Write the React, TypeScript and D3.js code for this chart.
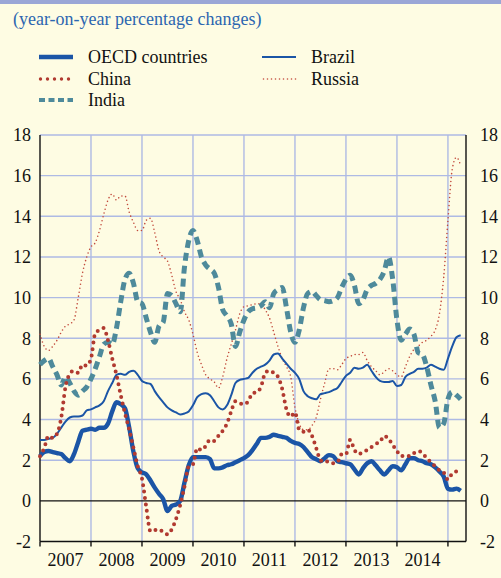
import React, { useEffect, useRef } from 'react';
import * as d3 from 'd3';

// monthly series, Jan 2007 .. Apr 2015
const years = ['2007', '2008', '2009', '2010', '2011', '2012', '2013', '2014'];
const yTicks = [-2, 0, 2, 4, 6, 8, 10, 12, 14, 16, 18];

const oecd = [
  2.2, 2.4, 2.45, 2.4, 2.35, 2.3, 2.1, 1.95, 2.3, 2.9, 3.45, 3.5,
  3.55, 3.5, 3.6, 3.6, 3.8, 4.4, 4.85, 4.75, 4.55, 3.6, 2.4, 1.6,
  1.4, 1.3, 1.0, 0.65, 0.35, 0.08, -0.5, -0.25, -0.18, 0.0, 0.9, 1.75,
  2.15, 2.15, 2.15, 2.15, 2.05, 1.6, 1.6, 1.65, 1.75, 1.8, 1.9, 2.0,
  2.1, 2.25, 2.5, 2.8, 3.1, 3.1, 3.15, 3.25, 3.2, 3.15, 3.1, 2.95,
  2.85, 2.8, 2.65, 2.4, 2.15, 2.05, 1.95, 2.1, 2.25, 2.2, 1.95, 1.9,
  1.85, 1.8, 1.55, 1.3, 1.6, 1.85, 1.95, 1.75, 1.5, 1.3, 1.5, 1.7,
  1.65, 1.5, 1.8, 2.1, 2.1, 2.0, 1.95, 1.85, 1.8, 1.65, 1.45, 1.2,
  0.6, 0.55, 0.6, 0.5,
];

const brazil = [
  3.0, 3.0, 3.05, 3.1, 3.3, 3.6, 3.9, 4.1, 4.15, 4.15, 4.2, 4.45,
  4.5, 4.6, 4.7, 4.9, 5.4, 5.8, 6.2, 6.25, 6.2, 6.35, 6.4, 6.2,
  5.9, 5.8, 5.75, 5.4, 5.1, 4.85, 4.6, 4.45, 4.35, 4.25, 4.3, 4.4,
  4.7, 5.1, 5.25, 5.3, 5.2, 4.9, 4.6, 4.5, 4.7, 5.2, 5.8, 5.95,
  6.0, 6.05, 6.3, 6.5, 6.6, 6.7, 6.9, 7.2, 7.25, 7.0, 6.75, 6.5,
  6.3, 6.0, 5.4, 5.15, 5.05, 5.0, 5.25, 5.3, 5.35, 5.45, 5.55, 5.85,
  6.15, 6.3, 6.55, 6.5, 6.55, 6.7, 6.4, 6.1, 5.9, 5.85, 5.85, 5.9,
  5.65, 5.7, 6.1, 6.25, 6.35, 6.5, 6.5, 6.55, 6.7, 6.6, 6.5, 6.45,
  7.0, 7.6, 8.05, 8.15,
];

const china = [
  2.2, 2.6, 3.2, 3.1, 3.3, 4.1, 5.6, 6.25, 6.4, 6.3, 6.7, 6.65,
  7.0, 8.25, 8.4, 8.5, 7.9, 7.0, 6.2, 5.2, 4.3, 3.5, 2.6, 1.7,
  1.1, -0.3, -1.5, -1.45, -1.4, -1.55, -1.65, -1.4, -0.9, -0.2, 0.7, 1.7,
  1.8, 2.6, 2.5, 2.7, 3.0, 2.95, 3.2, 3.45, 3.8, 4.4, 4.9, 4.8,
  4.75, 4.9, 5.3, 5.35, 5.6, 6.3, 6.4, 6.3, 6.1, 5.5, 4.5, 4.15,
  4.35, 3.5, 3.4, 3.5, 3.2, 2.6, 2.0, 1.9, 1.95, 1.85, 1.9, 2.3,
  2.3, 3.0, 2.5, 2.3, 2.4, 2.5, 2.65, 2.8, 2.9, 3.2, 3.05, 2.75,
  2.45, 2.2, 2.25, 2.2, 2.35, 2.45, 2.35, 2.1, 1.9, 1.7, 1.5, 1.4,
  1.05, 1.35, 1.45, 1.5,
];

const india = [
  6.7, 6.9, 7.0, 6.6, 6.2, 5.7, 6.1, 5.8, 5.4, 5.2, 5.4, 5.6,
  6.0, 6.5, 7.1, 7.7, 7.8, 7.7, 8.5, 9.8, 10.9, 11.2, 10.7, 9.8,
  9.7, 9.0, 8.3, 7.8, 8.6, 8.8, 10.2, 10.1, 9.7, 9.3, 11.5, 12.8,
  13.3, 12.8, 12.0, 11.6, 11.4, 11.2, 10.5, 9.4, 9.1, 8.7, 7.6, 8.3,
  8.9, 9.3, 9.45, 9.5, 9.6, 9.8, 9.5, 10.2, 10.4, 10.5, 9.5, 8.3,
  7.8, 8.4, 9.5, 10.2, 10.3, 10.1, 9.9, 9.85, 9.8, 9.85, 10.0, 10.5,
  10.9, 11.1, 10.6, 9.7, 9.9, 10.4, 10.6, 10.7, 10.9, 11.3, 12.0, 10.9,
  8.9, 7.9, 8.2, 8.45, 8.2, 7.3, 7.2, 6.6, 5.7, 4.9, 3.6, 3.8,
  5.0, 5.35, 5.2, 5.0,
];

const russia = [
  8.2, 7.6, 7.4, 7.6, 7.9, 8.3, 8.6, 8.7, 8.9, 10.0, 11.2, 12.0,
  12.5, 12.7, 13.3, 14.1, 14.8, 15.1, 14.8, 15.0, 15.0, 14.2, 13.7, 13.3,
  13.3, 13.8, 13.9, 13.2, 12.3, 12.0, 11.8, 11.1, 10.3, 9.9, 9.3, 8.9,
  8.2, 7.3, 6.7, 6.2, 6.0, 5.85, 5.55, 6.1, 7.0, 7.7, 8.4, 9.2,
  9.55, 9.6, 9.65, 9.7, 9.7, 9.4, 9.0, 8.3, 7.6, 7.0, 6.6, 6.1,
  4.6, 3.8, 3.5, 3.5, 3.7, 4.1, 5.0, 5.8, 6.5, 6.5, 6.45, 6.7,
  7.0, 7.1, 7.2, 7.2, 7.3, 6.9, 6.6, 6.4, 6.2, 6.35, 6.5, 6.4,
  6.2, 6.1, 6.6, 7.1, 7.45, 7.6, 7.8, 7.9, 8.1, 8.4, 9.2, 11.0,
  13.8, 16.3, 16.9, 16.5,
];

const FONT = 'Liberation Serif, Times New Roman, Times, DejaVu Serif, serif';

const App: React.FC = () => {
  const svgRef = useRef<SVGSVGElement>(null);

  useEffect(() => {
    if (!svgRef.current) return;
    const svg = d3.select(svgRef.current);
    svg.selectAll('*').remove();

    const width = 501;
    const height = 578;
    const margin = { top: 135, right: 35, bottom: 36.5, left: 40 };
    const gridColor = '#aebae4';
    const blue = '#1b55a6';

    svg.append('rect').attr('width', width).attr('height', height).attr('fill', '#fefce3');
    svg.append('rect').attr('width', width).attr('height', 4).attr('fill', '#9aa6d6');

    svg
      .append('text')
      .attr('x', 13)
      .attr('y', 25)
      .attr('fill', '#2c66b0')
      .attr('font-family', FONT)
      .attr('font-size', 18)
      .text('(year-on-year percentage changes)');

    const x = d3.scaleLinear().domain([0, 100.25]).range([margin.left, width - margin.right]);
    const y = d3.scaleLinear().domain([-2, 18]).range([height - margin.bottom, margin.top]);

    // grid
    const grid = svg.append('g');
    grid
      .selectAll('line.h')
      .data(yTicks.filter(v => v > 0))
      .enter()
      .append('line')
      .attr('x1', x(0))
      .attr('x2', x(100.25))
      .attr('y1', d => y(d))
      .attr('y2', d => y(d))
      .attr('stroke', gridColor)
      .attr('stroke-width', 1.4);
    grid
      .selectAll('line.v')
      .data(d3.range(1, years.length + 1).map(i => i * 12))
      .enter()
      .append('line')
      .attr('x1', d => x(d))
      .attr('x2', d => x(d))
      .attr('y1', y(18))
      .attr('y2', y(-2))
      .attr('stroke', gridColor)
      .attr('stroke-width', 1.4);

    // axes frame
    const axisG = svg.append('g').attr('stroke', '#111').attr('stroke-width', 1.4);
    axisG.append('line').attr('x1', x(0)).attr('x2', x(0)).attr('y1', y(18)).attr('y2', y(-2));
    axisG.append('line').attr('x1', x(100.25)).attr('x2', x(100.25)).attr('y1', y(18)).attr('y2', y(-2));
    axisG.append('line').attr('x1', x(0)).attr('x2', x(100.25)).attr('y1', y(0)).attr('y2', y(0));
    axisG.append('line').attr('x1', x(0)).attr('x2', x(100.25)).attr('y1', y(-2)).attr('y2', y(-2));
    axisG
      .selectAll('line.tick')
      .data(d3.range(0, years.length + 1).map(i => i * 12))
      .enter()
      .append('line')
      .attr('x1', d => x(d))
      .attr('x2', d => x(d))
      .attr('y1', y(-2))
      .attr('y2', y(-2) + 5);

    // y labels both sides
    const labels = svg.append('g').attr('font-family', FONT).attr('font-size', 18).attr('fill', '#111');
    labels
      .selectAll('text.l')
      .data(yTicks)
      .enter()
      .append('text')
      .attr('x', 31)
      .attr('y', d => y(d))
      .attr('dy', '0.35em')
      .attr('text-anchor', 'end')
      .text(d => d);
    labels
      .selectAll('text.r')
      .data(yTicks)
      .enter()
      .append('text')
      .attr('x', 480)
      .attr('y', d => y(d))
      .attr('dy', '0.35em')
      .text(d => d);
    labels
      .selectAll('text.yr')
      .data(years)
      .enter()
      .append('text')
      .attr('x', (d, i) => x(i * 12 + 6))
      .attr('y', 566)
      .attr('text-anchor', 'middle')
      .text(d => d);

    // series
    const series = [
      { name: 'Russia', values: russia, color: '#c24a3c', width: 1.6, dash: '0 4', cap: 'round' },
      { name: 'Brazil', values: brazil, color: blue, width: 2, dash: null, cap: 'butt' },
      { name: 'India', values: india, color: '#4e8a9b', width: 5, dash: '8 5', cap: 'butt' },
      { name: 'OECD countries', values: oecd, color: blue, width: 4.4, dash: null, cap: 'butt' },
      { name: 'China', values: china, color: '#b13a30', width: 4, dash: '0 6.5', cap: 'round' },
    ];

    const line = d3
      .line<number>()
      .x((d, i) => x(i))
      .y(d => y(d))
      .curve(d3.curveMonotoneX);

    series.forEach(s => {
      svg
        .append('path')
        .datum(s.values)
        .attr('d', line)
        .attr('fill', 'none')
        .attr('stroke', s.color)
        .attr('stroke-width', s.width)
        .attr('stroke-linejoin', 'round')
        .attr('stroke-linecap', s.cap)
        .attr('stroke-dasharray', s.dash);
    });

    // legend
    const legendOrder = ['OECD countries', 'China', 'India', 'Brazil', 'Russia'];
    const legendPos = [
      { lx: 39, tx: 88, y: 57 },
      { lx: 39, tx: 88, y: 79 },
      { lx: 39, tx: 88, y: 100 },
      { lx: 262, tx: 311, y: 57 },
      { lx: 262, tx: 311, y: 79 },
    ];
    const legend = svg.append('g');
    legendOrder.forEach((name, i) => {
      const s = series.find(d => d.name === name)!;
      const p = legendPos[i];
      let dash = s.dash;
      if (name === 'India') dash = '6 3.5';
      if (name === 'China') dash = '0 7';
      legend
        .append('line')
        .attr('x1', p.lx + (s.cap === 'round' ? 1.5 : 0))
        .attr('x2', p.lx + 34)
        .attr('y1', p.y)
        .attr('y2', p.y)
        .attr('stroke', s.color)
        .attr('stroke-width', name === 'China' ? 3.4 : name === 'India' ? 4 : s.width)
        .attr('stroke-linecap', s.cap)
        .attr('stroke-dasharray', dash);
      legend
        .append('text')
        .attr('x', p.tx)
        .attr('y', p.y)
        .attr('dy', '0.35em')
        .attr('fill', '#111')
        .attr('font-family', FONT)
        .attr('font-size', 18)
        .text(name);
    });
  }, []);

  return (
    <svg
      ref={svgRef}
      width={501}
      height={578}
      style={{ position: 'absolute', left: 0, top: 0, display: 'block' }}
    ></svg>
  );
};

export default App;
